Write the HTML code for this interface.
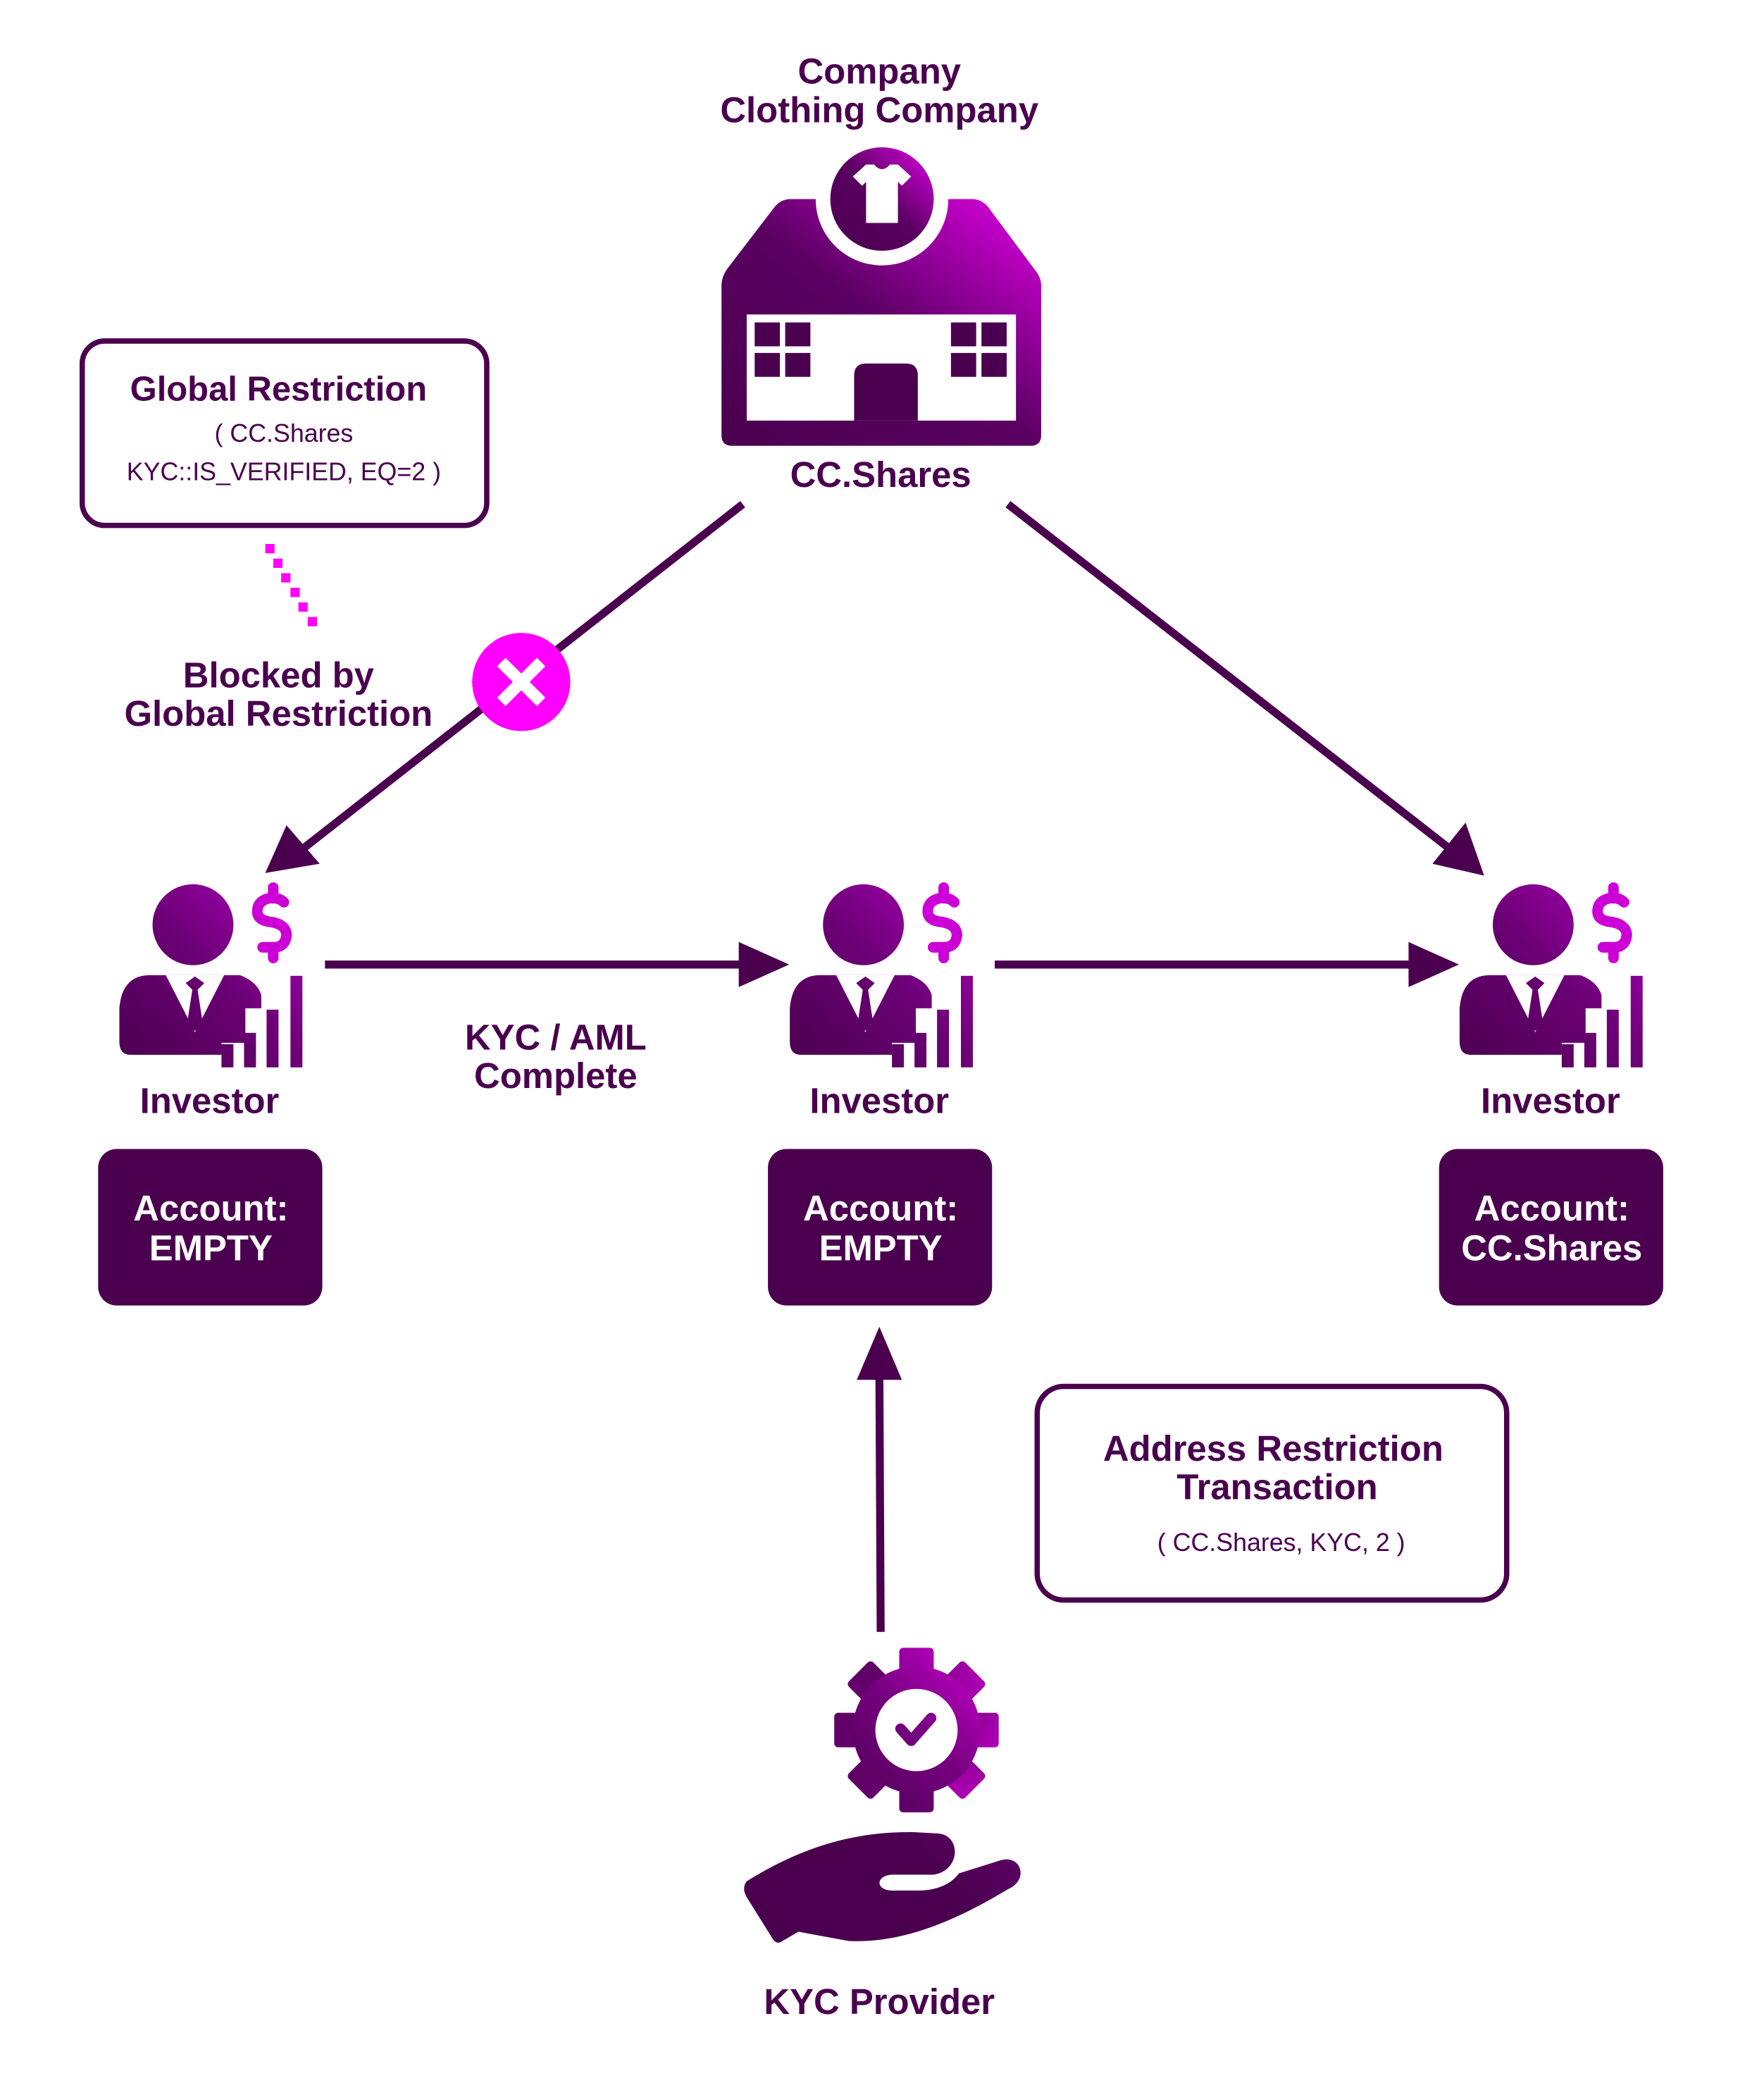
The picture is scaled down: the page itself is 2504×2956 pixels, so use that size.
<!DOCTYPE html>
<html><head><meta charset="utf-8"><style>
html,body{margin:0;padding:0;background:#fff;}
svg{display:block;}
text{font-family:"Liberation Sans",sans-serif;fill:#4a004e;}
.b{font-weight:bold;}
</style></head><body>
<svg width="2504" height="2956" viewBox="0 0 1330 1570" xmlns="http://www.w3.org/2000/svg">
<defs>
<linearGradient id="g" x1="0" y1="1" x2="1" y2="0">
<stop offset="0" stop-color="#4a004e"/><stop offset="0.5" stop-color="#5a0062"/><stop offset="1" stop-color="#e000e6"/>
</linearGradient>
<linearGradient id="gi" gradientUnits="userSpaceOnUse" x1="90" y1="804" x2="228" y2="665">
<stop offset="0" stop-color="#4a004e"/><stop offset="0.5" stop-color="#6a0074"/><stop offset="1" stop-color="#b000bc"/>
</linearGradient>
<linearGradient id="gg" gradientUnits="userSpaceOnUse" x1="-62" y1="62" x2="62" y2="-62">
<stop offset="0" stop-color="#4a004e"/><stop offset="0.5" stop-color="#75007f"/><stop offset="1" stop-color="#d800dc"/>
</linearGradient>
<g id="inv">
<circle cx="145.5" cy="697" r="30.5" fill="url(#gi)"/>
<path d="M113,735 L181,735 Q194,740 197,750 L197,760 L185,760 L185,786 L167,786 L167,795 L98,795 Q90,795 90,785 L90,760 Q92,735 113,735 Z" fill="url(#gi)"/>
<polygon points="125,735 169,735 147,778" fill="#fff"/>
<path d="M140,741 L147,736 L154,741 L149,746 L153,772 L147,777 L141,772 L145,746 Z" fill="url(#gi)"/>
<rect x="167" y="787" width="9" height="17.5" fill="url(#gi)"/>
<rect x="184" y="778.5" width="9" height="26" fill="url(#gi)"/>
<rect x="201" y="761" width="9" height="43.5" fill="url(#gi)"/>
<rect x="219" y="735.5" width="9" height="69" fill="url(#gi)"/>
<path d="M206,669 L206,677 M214,680 Q210,676 203,677 Q194,679 194,687 Q194,694 205,695 Q216,697 216,705 Q215,714 206,714 L198,714 M206,714 L206,722" fill="none" stroke="#cc00d6" stroke-width="8" stroke-linecap="round"/>
</g>
</defs>

<text x="663" y="63" class="b" font-size="27" text-anchor="middle">Company</text>
<text x="663" y="92" class="b" font-size="27" text-anchor="middle">Clothing Company</text>

<path d="M596,150 L733,150 Q740,150 745,156 L780,203 Q785,209 785,215 L785,328 Q785,336 777,336 L552,336 Q544,336 544,328 L544,215 Q544,209 548,203 L584,156 Q589,150 596,150 Z" fill="url(#g)"/>
<circle cx="665" cy="150" r="50" fill="#fff"/>
<circle cx="665" cy="150" r="39" fill="url(#g)"/>
<path d="M643,133 L653,124 L659,124 Q665,131 671,124 L677,124 L687,133 L680,140 L677,137 L677,168 L653,168 L653,137 L650,140 Z" fill="#fff"/>
<rect x="563" y="237" width="203" height="80" fill="#fff"/>
<g fill="#4a004e">
<rect x="569" y="243" width="19" height="18"/><rect x="592" y="243" width="19" height="18"/>
<rect x="569" y="266" width="19" height="18"/><rect x="592" y="266" width="19" height="18"/>
<rect x="717" y="243" width="19" height="18"/><rect x="740" y="243" width="19" height="18"/>
<rect x="717" y="266" width="19" height="18"/><rect x="740" y="266" width="19" height="18"/>
<path d="M644,317 L644,283 Q644,274 653,274 L683,274 Q692,274 692,283 L692,317 Z"/>
</g>
<text x="664" y="367" class="b" font-size="27" text-anchor="middle">CC.Shares</text>

<rect x="62" y="257" width="305" height="139" rx="17" fill="#fff" stroke="#4a004e" stroke-width="4"/>
<text x="210" y="302" class="b" font-size="26" text-anchor="middle">Global Restriction</text>
<text x="214" y="333" font-size="19" text-anchor="middle">( CC.Shares</text>
<text x="214" y="362" font-size="19" text-anchor="middle">KYC::IS_VERIFIED, EQ=2 )</text>

<g fill="#ff00ff">
<rect x="200" y="410" width="7" height="7"/><rect x="206" y="421" width="7" height="7"/>
<rect x="212" y="432" width="7" height="7"/><rect x="219" y="443" width="7" height="7"/>
<rect x="225" y="454" width="7" height="7"/><rect x="232" y="465" width="7" height="7"/>
</g>
<text x="210" y="518" class="b" font-size="27" text-anchor="middle">Blocked by</text>
<text x="210" y="547" class="b" font-size="27" text-anchor="middle">Global Restriction</text>

<g stroke="#4a004e" stroke-width="6" fill="none">
<line x1="560" y1="380" x2="228" y2="640"/>
<line x1="760" y1="380" x2="1096" y2="642"/>
<line x1="245" y1="727" x2="565" y2="727"/>
<line x1="750" y1="727" x2="1070" y2="727"/>
<line x1="664" y1="1230" x2="663" y2="1030"/>
</g>
<g fill="#4a004e">
<polygon points="200,658 216,622 241,651"/>
<polygon points="1119,660 1080,651 1105,620"/>
<polygon points="595,727 557,710 557,744"/>
<polygon points="1100,727 1062,710 1062,744"/>
<polygon points="663,1000 646,1040 680,1040"/>
</g>
<circle cx="393" cy="514" r="37" fill="#ff00ff"/>
<path d="M378,499 L408,529 M408,499 L378,529" stroke="#fff" stroke-width="9"/>

<text x="419" y="791" class="b" font-size="27" text-anchor="middle">KYC / AML</text>
<text x="419" y="820" class="b" font-size="27" text-anchor="middle">Complete</text>

<use href="#inv"/>
<use href="#inv" transform="translate(505.5,0)"/>
<use href="#inv" transform="translate(1010.5,0)"/>
<text x="158" y="839" class="b" font-size="27" text-anchor="middle">Investor</text>
<text x="663" y="839" class="b" font-size="27" text-anchor="middle">Investor</text>
<text x="1169" y="839" class="b" font-size="27" text-anchor="middle">Investor</text>

<rect x="74" y="866" width="169" height="118" rx="14" fill="#4a004e"/>
<rect x="579" y="866" width="169" height="118" rx="14" fill="#4a004e"/>
<rect x="1085" y="866" width="169" height="118" rx="14" fill="#4a004e"/>
<g font-size="27" font-weight="bold" text-anchor="middle">
<text x="159" y="920" style="fill:#fff">Account:</text><text x="159" y="950" style="fill:#fff">EMPTY</text>
<text x="664" y="920" style="fill:#fff">Account:</text><text x="664" y="950" style="fill:#fff">EMPTY</text>
<text x="1170" y="920" style="fill:#fff">Account:</text><text x="1170" y="950" style="fill:#fff">CC.Shares</text>
</g>

<rect x="782" y="1045" width="354" height="161" rx="20" fill="#fff" stroke="#4a004e" stroke-width="4"/>
<text x="960" y="1101" class="b" font-size="27" text-anchor="middle">Address Restriction</text>
<text x="963" y="1130" class="b" font-size="27" text-anchor="middle">Transaction</text>
<text x="966" y="1169" font-size="19" text-anchor="middle">( CC.Shares, KYC, 2 )</text>

<g transform="translate(691,1304)" fill="url(#gg)">
<rect x="-13" y="-62" width="26" height="124" rx="3"/>
<rect x="-13" y="-62" width="26" height="124" rx="3" transform="rotate(45)"/>
<rect x="-13" y="-62" width="26" height="124" rx="3" transform="rotate(90)"/>
<rect x="-13" y="-62" width="26" height="124" rx="3" transform="rotate(135)"/>
<circle r="48"/>
<circle r="31" fill="#fff"/>
<path d="M-12,-1 L-4,8 L11,-9" stroke="url(#gg)" stroke-width="8" fill="none" stroke-linecap="round" stroke-linejoin="round"/>
</g>
<path d="M563,1418 C600,1395 640,1380 690,1381 L708,1382 C725,1384 724,1410 704,1413 L672,1413 C660,1414 660,1425 673,1425 L692,1425 C708,1425 718,1419 723,1412 L755,1402 C770,1398 776,1417 760,1424 C720,1448 680,1465 640,1463 L602,1456 L590,1463 Q586,1466 583,1462 L563,1430 Q559,1423 563,1418 Z" fill="url(#gi)"/>
<text x="663" y="1518" class="b" font-size="27" text-anchor="middle">KYC Provider</text>
</svg>
</body></html>
